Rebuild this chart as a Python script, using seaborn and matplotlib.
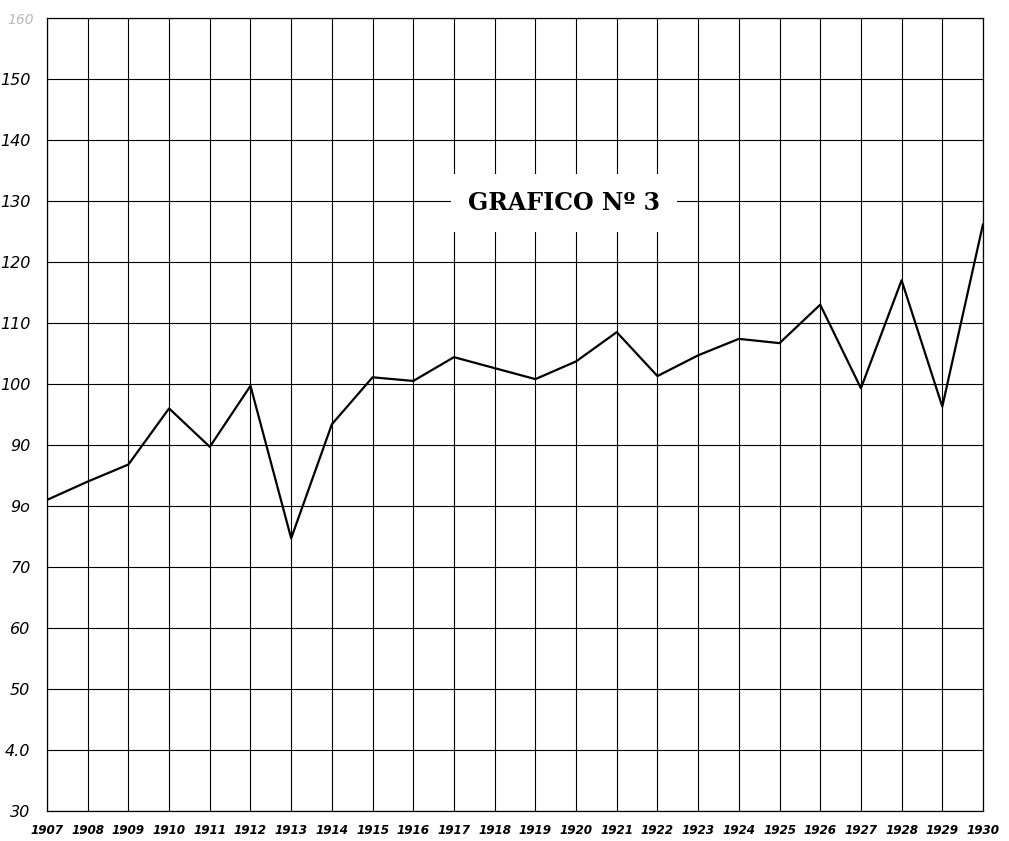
import matplotlib
matplotlib.use("Agg")
import matplotlib.pyplot as plt
import seaborn as sns
import pandas as pd

# valores
anios = list(range(1907, 1931))
valores = [81.0, 84.0, 86.8, 96.0, 89.7, 99.7, 74.7, 93.4, 101.1, 100.5,
           104.4, 102.6, 100.8, 103.7, 108.5, 101.3, 104.7, 107.4, 106.7,
           113.0, 99.3, 117.0, 96.3, 126.2]

y_ticks = [30, 40, 50, 60, 70, 80, 90, 100, 110, 120, 130, 140, 150]
y_labels = ["30", "4.0", "50", "60", "70", "9o", "90", "100", "110", "120", "130", "140", "150"]
titulo = "GRAFICO N\u00ba 3"

df = pd.DataFrame({"anio": anios, "valor": valores})

sns.set_style("white")
plt.rcParams["font.family"] = ["DejaVu Sans"]

fig = plt.figure(figsize=(10.09, 8.41), dpi=100)
ax = fig.add_axes([47 / 1009, 1 - 811 / 841, (983 - 47) / 1009, (811 - 18) / 841])

sns.lineplot(data=df, x="anio", y="valor", color="black", linewidth=1.6, ax=ax, zorder=5)

ax.set_xlim(1907, 1930)
ax.set_ylim(30, 160)

# cuadricula
for a in anios:
    ax.axvline(a, color="black", linewidth=0.8, zorder=1)
for v in range(30, 161, 10):
    ax.axhline(v, color="black", linewidth=0.8, zorder=1)

for s in ax.spines.values():
    s.set_color("black")
    s.set_linewidth(0.9)

ax.set_xticks(anios)
ax.set_xticklabels([str(a) for a in anios], fontstyle="italic", fontsize=9.5,
                   fontstretch="condensed", fontweight="bold")
ax.set_yticks(y_ticks)
ax.set_yticklabels(y_labels, fontstyle="italic", fontsize=11.5)
ax.tick_params(length=0, pad=9, labelcolor="black")
ax.tick_params(axis="y", pad=12)
ax.set_xlabel("")
ax.set_ylabel("")

# etiqueta superior casi borrada
ax.text(-0.028, 0.997, "160", transform=ax.transAxes, fontsize=10, fontstyle="italic",
        color="#bbbbbb", ha="center", va="center")

# titulo en un recuadro blanco
ax.text(1919.7, 129.7, titulo, fontsize=17, fontweight="bold", family="DejaVu Serif",
        ha="center", va="center", zorder=6, color="black",
        bbox=dict(facecolor="white", edgecolor="none", pad=12))

fig.savefig("out.png", dpi=100)
